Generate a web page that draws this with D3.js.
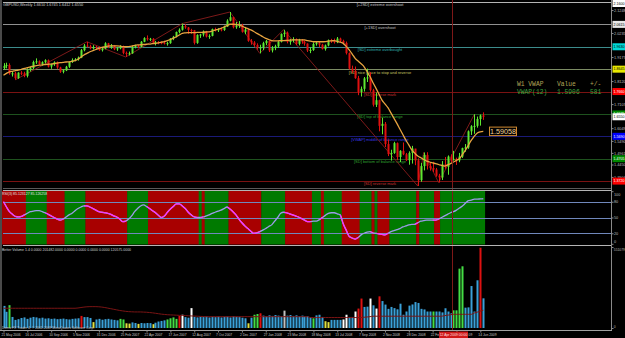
<!DOCTYPE html>
<html><head><meta charset="utf-8">
<script src="https://cdn.jsdelivr.net/npm/d3@7"></script>
<style>html,body{margin:0;padding:0;background:#000;overflow:hidden}svg{display:block}</style>
</head><body><svg id="c" width="625" height="338"></svg>
<script>
// ---------- DATA ----------
const firstOpen = 1.8690;
const closes = [1.8790,1.8830,1.8450,1.8460,1.8250,1.8490,1.8460,1.8350,1.8600,1.8690,
1.8960,1.8990,1.8870,1.8950,1.9040,1.8760,1.8860,1.8950,1.8720,1.8530,
1.8590,1.8750,1.8960,1.9050,1.9080,1.9150,1.9480,1.9680,1.9650,1.9560,
1.9620,1.9580,1.9480,1.9550,1.9780,1.9600,1.9700,1.9520,1.9560,1.9640,
1.9360,1.9320,1.9340,1.9610,1.9680,1.9620,1.9850,2.0010,1.9960,1.9980,
1.9780,1.9830,1.9820,1.9810,1.9770,1.9790,1.9990,2.0070,2.0280,2.0380,
2.0540,2.0480,2.0370,2.0360,1.9800,2.0150,2.0170,2.0300,2.0080,2.0110,
2.0410,2.0360,2.0400,2.0370,2.0520,2.0780,2.0930,2.0490,2.0560,2.0590,
2.0290,2.0390,1.9890,1.9820,1.9710,1.9580,1.9600,1.9790,1.9890,1.9470,
1.9570,1.9650,1.9850,2.0190,2.0250,1.9840,1.9920,1.9960,1.9760,1.9920,
1.9850,1.9770,1.9470,1.9490,1.9750,1.9790,1.9720,1.9530,1.9690,1.9910,
1.9890,1.9830,1.9990,1.9890,1.9800,1.9350,1.8670,1.8570,1.8250,1.7640,
1.7780,1.8240,1.8280,1.7720,1.7080,1.7280,1.6150,1.6240,1.5350,1.4910,
1.4960,1.5390,1.4780,1.5050,1.4900,1.4640,1.4960,1.5150,1.4630,1.3760,
1.4380,1.4870,1.4390,1.4290,1.4230,1.3960,1.3880,1.4450,1.4350,1.4800,
1.4690,1.4700,1.4630,1.4800,1.5170,1.5200,1.5910,1.6130,1.6150,1.6450,
1.6610,1.6550];
const highs = [1.8910,1.8930,1.8900,1.8530,1.8520,1.8510,1.8560,1.8530,1.8680,1.8740,
1.9020,1.9120,1.9030,1.8990,1.9080,1.9070,1.8890,1.8990,1.8980,1.8750,
1.8640,1.8790,1.8980,1.9120,1.9130,1.9200,1.9530,1.9750,1.9850,1.9720,
1.9700,1.9670,1.9640,1.9620,1.9830,1.9800,1.9750,1.9710,1.9620,1.9700,
1.9680,1.9420,1.9420,1.9660,1.9720,1.9710,1.9880,2.0050,2.0130,2.0020,
2.0010,1.9890,1.9880,1.9870,1.9900,1.9850,2.0010,2.0110,2.0300,2.0440,
2.0650,2.0620,2.0500,2.0420,2.0370,2.0180,2.0200,2.0350,2.0330,2.0180,
2.0430,2.0470,2.0450,2.0480,2.0560,2.0840,2.1160,2.0950,2.0720,2.0760,
2.0640,2.0500,2.0420,1.9970,1.9880,1.9780,1.9720,1.9850,1.9930,1.9900,
1.9660,1.9720,1.9880,2.0220,2.0380,2.0300,1.9980,2.0050,2.0000,1.9980,
1.9970,1.9900,1.9780,1.9610,1.9820,1.9850,1.9840,1.9760,1.9730,1.9950,
1.9980,1.9990,2.0060,2.0030,1.9940,1.9860,1.9380,1.8800,1.8760,1.8350,
1.7880,1.8300,1.8670,1.8510,1.7780,1.7620,1.7300,1.6510,1.6320,1.5550,
1.5100,1.5450,1.5420,1.5080,1.5420,1.4960,1.5030,1.5270,1.5140,1.4720,
1.4520,1.4980,1.4990,1.4530,1.4570,1.4300,1.4040,1.4600,1.4780,1.4850,
1.4900,1.5050,1.4750,1.4960,1.5190,1.5350,1.5950,1.6180,1.6660,1.6560,
1.6650,1.6745];
const lows = [1.8620,1.8680,1.8400,1.8320,1.8180,1.8220,1.8380,1.8290,1.8280,1.8540,
1.8650,1.8880,1.8840,1.8800,1.8900,1.8720,1.8660,1.8790,1.8660,1.8480,
1.8460,1.8560,1.8700,1.8920,1.8990,1.9020,1.9130,1.9430,1.9600,1.9520,
1.9510,1.9530,1.9450,1.9420,1.9520,1.9570,1.9540,1.9480,1.9450,1.9520,
1.9300,1.9180,1.9250,1.9320,1.9560,1.9560,1.9600,1.9830,1.9900,1.9880,
1.9750,1.9690,1.9740,1.9740,1.9730,1.9680,1.9760,1.9920,2.0040,2.0220,
2.0340,2.0420,2.0200,2.0200,1.9730,1.9760,2.0020,2.0080,2.0040,1.9980,
2.0090,2.0300,2.0280,2.0310,2.0330,2.0500,2.0750,2.0440,2.0420,2.0460,
2.0250,2.0180,1.9850,1.9720,1.9630,1.9500,1.9340,1.9480,1.9700,1.9400,
1.9380,1.9480,1.9580,1.9820,2.0060,1.9780,1.9720,1.9820,1.9700,1.9690,
1.9760,1.9680,1.9400,1.9350,1.9450,1.9680,1.9610,1.9510,1.9460,1.9650,
1.9800,1.9770,1.9790,1.9830,1.9740,1.9290,1.8630,1.8480,1.8220,1.7500,
1.7440,1.7660,1.8080,1.7650,1.7000,1.6980,1.5910,1.5780,1.5220,1.4820,
1.4620,1.4920,1.4640,1.4560,1.4860,1.4600,1.4440,1.4490,1.4420,1.3503,
1.3690,1.4190,1.4230,1.4180,1.4120,1.3910,1.3657,1.3770,1.4260,1.4000,
1.4560,1.4620,1.4430,1.4550,1.4740,1.5010,1.5140,1.5750,1.5800,1.6070,
1.6160,1.6412];
const vwap = [1.838,1.846,1.853,1.855,1.858,1.860,1.864,1.868,1.871,1.875,
1.877,1.880,1.882,1.883,1.885,1.886,1.887,1.889,1.891,1.893,
1.894,1.896,1.897,1.899,1.902,1.908,1.918,1.927,1.934,1.941,
1.946,1.951,1.956,1.960,1.963,1.966,1.967,1.967,1.967,1.966,
1.964,1.963,1.964,1.966,1.969,1.971,1.972,1.973,1.974,1.975,
1.977,1.978,1.980,1.983,1.986,1.990,1.995,2.001,2.007,2.015,
2.022,2.024,2.025,2.025,2.025,2.026,2.026,2.027,2.028,2.029,
2.032,2.036,2.040,2.044,2.050,2.056,2.062,2.062,2.061,2.059,
2.054,2.048,2.043,2.037,2.030,2.022,2.015,2.007,2.000,1.995,
1.990,1.989,1.989,1.990,1.990,1.991,1.992,1.993,1.993,1.993,
1.993,1.993,1.990,1.988,1.985,1.985,1.985,1.985,1.986,1.988,
1.989,1.990,1.987,1.983,1.978,1.965,1.949,1.931,1.912,1.900,
1.888,1.875,1.853,1.831,1.805,1.780,1.754,1.728,1.712,1.695,
1.672,1.649,1.626,1.601,1.577,1.553,1.531,1.509,1.495,1.482,
1.475,1.467,1.460,1.456,1.452,1.449,1.445,1.441,1.438,1.443,
1.449,1.456,1.463,1.471,1.489,1.508,1.530,1.552,1.570,1.584,
1.589,1.5906];
const zigzag = [[4,1.8180],[28,1.9850],[41,1.9180],[60,2.0650],[76,2.1160],[86,1.9340],
[94,2.0380],[139,1.3503],[141,1.4980],[146,1.3657],[158,1.6660]];
const levels = [2.1600,2.0615,1.9630,1.8645,1.7660,1.6675,1.5690,1.4705,1.3720];
const levelNames = ["[+2SD] extreme overshoot","[+1SD] overshoot","[SD] extreme overbought",
"[SD] nice place to stop and reverse","[SD] reverse mark","[SD] top of balance range",
"[VWAP] middle of balance range","[SD] bottom of balance range","[SD] reverse mark"];
const priceTicks = [2.1248,2.0235,1.9177,1.8120,1.7107,1.6049,1.5490,1.4961,1.4450,1.3904];
const rsi = [80,70,61,56,52,51,52,55,58,61,
62,63,63,61,59,56,53,50,47,45,
47,51,55,58,63,67,70,72,72,70,
67,64,61,60,59,58,56,53,51,47,
42,43,47,53,61,67,72,74,71,67,
63,59,54,50,53,60,66,71,76,76,
72,67,60,55,51,50,50,51,53,55,
58,60,62,64,67,70,66,61,55,47,
40,34,29,24,20,21,23,26,29,33,
36,43,50,58,60,59,57,55,53,51,
48,45,42,42,43,43,46,50,54,58,
59,59,57,55,38,26,14,11,9,12,
17,20,22,23,21,20,19,18,17,20,
23,25,27,29,32,34,36,37,37,40,
43,44,45,45,45,45,47,50,53,56,
59,61,64,68,72,77,82,83,85,85,
85.3,85.6];
// runs of trend state for the RSI background: [firstBar, lastBar, 1=up/0=down]
const rsiBandRuns = [[0,7,0],[8,14,1],[15,20,0],[21,27,1],[28,41,0],[42,48,1],[49,65,0],[66,66,1],
[67,67,0],[68,75,1],[76,86,0],[87,94,1],[95,103,0],[104,106,1],[107,107,0],[108,113,1],[114,119,0],
[120,123,1],[124,124,0],[125,125,1],[126,129,0],[130,138,1],[139,139,0],[140,144,1],[145,146,0],[147,161,1]];
const rsiTicks = [100,80,50,20,0];
const volumes = [150000,110000,155000,75000,55000,60000,68000,72000,62000,70000,
75000,72000,66000,70000,64000,66000,62000,64000,60000,62000,
64000,60000,58000,62000,64000,66000,82000,74000,74000,68000,
40000,58000,62000,56000,60000,62000,58000,55000,52000,62000,
58000,32000,30000,38000,34000,28000,34000,32000,34000,33000,
26000,36000,44000,48000,52000,58000,66000,72000,62000,82000,
90000,74000,70000,135000,76000,72000,76000,74000,78000,72000,
76000,74000,78000,72000,76000,78000,72000,80000,76000,74000,
70000,66000,32000,70000,90000,95000,100000,84000,80000,86000,
82000,88000,84000,80000,118000,84000,88000,82000,86000,80000,
84000,78000,80000,72000,66000,86000,90000,75000,46000,40000,
55000,55000,55000,55000,58000,90000,75000,75000,112000,132000,
200000,143000,145000,200000,154000,132000,215000,183000,159000,130000,
143000,135000,127000,165000,90000,112000,152000,160000,176000,170000,
130000,126000,112000,112000,112000,112000,112000,106000,134000,112000,
100000,120000,120000,403000,419000,138000,140000,285000,112000,324000,
545000,201482];
const volKinds = ["b","b","g","b","b","b","b","b","b","b",
"b","b","b","b","b","b","b","b","b","b",
"b","b","b","b","b","b","r","b","b","b",
"y","b","b","b","b","b","b","b","b","g",
"g","y","y","b","b","y","b","b","b","b",
"y","b","b","b","b","g","g","g","g","r",
"w","b","b","w","b","b","b","b","b","b",
"b","b","b","b","b","b","b","b","b","b",
"b","b","y","b","g","g","r","b","b","b",
"b","b","b","b","s","b","b","b","b","b",
"b","b","b","b","g","b","b","b","y","y",
"b","b","b","b","w","w","b","b","w","r",
"r","b","b","w","b","w","r","b","b","b",
"b","b","b","b","b","b","b","b","b","b",
"b","b","b","b","g","b","b","b","b","b",
"b","g","g","g","g","b","b","b","b","b",
"r","b"];
const volMA = [134000,134000,134000,134000,134000,134000,134000,134000,134000,134000,
134000,134000,134000,134000,134000,134000,134000,134000,134000,134000,
134000,134000,134000,134000,134000,136000,139000,142000,144000,145000,
145000,145000,144000,142000,139000,135000,131000,127000,123000,119000,
116000,113000,111000,110000,109000,109000,109000,108000,107000,105000,
103000,100000,97000,94000,92000,90000,89000,88000,87000,86000,
85000,84000,83000,82000,81000,80000,79000,78000,77000,77000,
77000,77000,77000,77000,77000,77000,77000,77000,77000,77000,
77000,77000,77000,77000,77000,77000,77000,77000,77000,77000,
77000,77000,77000,77000,77000,77000,77000,77000,77000,77000,
77000,77000,77000,71000,71000,71000,71000,71000,71000,71000,
71000,71000,71000,71000,71000,71000,71000,71000,71000,71000,
71000,73000,75000,77000,80000,80000,80000,80000,80000,80000,
80000,80000,80000,80000,80000,80000,80000,80000,80000,80000,
80000,80000,80000,80000,80000,80000,80000,80000,84000,87000,
90000,93000,93000,93000,93000,93000,93000,93000,102000,108000,
115000,120575];
const volTicks = [550000,0];
const volTickLabels = ["551079","0"];
const dateTicks = [0,8,16,24,32,40,48,56,64,72,80,88,96,104,112,120,128,136,144,152,160];
const dateLabels = ["21 May 2006","16 Jul 2006","10 Sep 2006","5 Nov 2006","31 Dec 2006","25 Feb 2007",
"22 Apr 2007","17 Jun 2007","12 Aug 2007","7 Oct 2007","2 Dec 2007","27 Jan 2008","23 Mar 2008",
"18 May 2008","13 Jul 2008","7 Sep 2008","2 Nov 2008","28 Dec 2008","22 Feb 2009","19 Apr 2009","14 Jun 2009"];
const crossIdx = 151, crossLabel = "12 Apr 2009 00:00";
const titleText = "GBPUSD,Weekly  1.6610 1.6745 1.6412 1.6550";
const rsiTitle = "RSI(3) 85.123127 85.126258";
const volTitle = "Better Volume 1.4 0.0000 201482.0000 0.0000 0.0000 0.0000 0.0000 120575.0000";
const copyright = "Demo FX Trader 4, \u00a9 2001-2009 MetaQuotes Software Corp.";
const infoHead = ["W1 VWAP","Value","+/-"];
const infoRow = ["VWAP(12)","1.5906","581"];

// ---------- STYLE ----------
const FONT = "'Liberation Sans', Arial, sans-serif";
const levelLineCol = ["#b4b4b4","#909090","#3c8c8c","#7c8c64","#7a1212","#1e521e","#1a1a78","#1e521e","#7a1212"];
const levelTextCol = ["#c8c8c8","#c0c0c0","#30b4b4","#c8c860","#c83030","#30a030","#3838e0","#30a030","#c83030"];
const levelBoxCol  = ["#ffffff","#e8e8e8","#00d8d8","#e8e800","#ff0000","#008800","#0000ff","#008800","#ff0000"];
const volCol = {b:"#3aa0d8",g:"#44dd44",r:"#dd1111",w:"#ffffff",y:"#e0e040",s:"#c0c0c0"};

// ---------- SCALES ----------
const svg = d3.select("#c");
const X0 = 3, X1 = 611;
const x = d3.scaleLinear().domain([0,161]).range([3.5,483.3]);
const y = d3.scaleLinear().domain([1.346,2.160]).range([187,2]);
const yR = d3.scaleLinear().domain([0,100]).range([243.8,191.2]);
const yV = d3.scaleLinear().domain([0,550000]).range([328,247]);
const half = (x(1)-x(0))/2;
const cx = x(crossIdx);

svg.append("rect").attr("width",625).attr("height",338).attr("fill","#000");
const defs = svg.append("defs");
defs.append("clipPath").attr("id","mainClip").append("rect").attr("x",X0).attr("y",1).attr("width",X1-X0).attr("height",187);
const dclip = defs.append("clipPath").attr("id","dateClip");
dclip.append("rect").attr("x",0).attr("y",-5).attr("width",cx-14.5).attr("height",20);
dclip.append("rect").attr("x",cx+14.5).attr("y",-5).attr("width",625).attr("height",20);

// ---------- RSI PANEL BACKGROUND ----------
const rsiG = svg.append("g");
rsiG.selectAll("rect.band").data(rsiBandRuns).join("rect")
  .attr("x",d=>x(d[0])-half).attr("width",d=>x(d[1])-x(d[0])+2*half+0.3)
  .attr("y",190.5).attr("height",54)
  .attr("fill",d=>d[2]?"#007a00":"#a80000");
rsiG.selectAll("line.lv").data([80,50,20]).join("line")
  .attr("x1",X0).attr("x2",X1).attr("y1",d=>Math.round(yR(d))+0.5).attr("y2",d=>Math.round(yR(d))+0.5)
  .attr("stroke","#7088bc").attr("stroke-width",1);
const rsiLine = d3.line().x((d,i)=>x(i)).y(d=>yR(d)).curve(d3.curveMonotoneX);
rsiG.append("path").datum(rsi).attr("d",rsiLine).attr("fill","none").attr("stroke","#9c9ce8").attr("stroke-width",1.3);
rsiBandRuns.filter(r=>r[2]===0).forEach(r=>{
  const s = Math.max(0,r[0]-1), e = r[1];
  const seg = rsi.slice(s,e+1).map((v,k)=>[s+k,v]);
  rsiG.append("path").datum(seg).attr("d",d3.line().x(d=>x(d[0])).y(d=>yR(d[1])).curve(d3.curveMonotoneX))
    .attr("fill","none").attr("stroke","#ff30ff").attr("stroke-width",1.2);
});

// ---------- MAIN PANEL ----------
const main = svg.append("g").attr("clip-path","url(#mainClip)");
main.selectAll("line.level").data(levels).join("line")
  .attr("x1",X0).attr("x2",X1)
  .attr("y1",d=>Math.round(y(d))+0.5).attr("y2",d=>Math.round(y(d))+0.5)
  .attr("stroke",(d,i)=>levelLineCol[i]).attr("stroke-width",1);
main.selectAll("text.level").data(levels).join("text")
  .attr("x",380).attr("y",d=>y(d)+4.4).attr("text-anchor","middle")
  .attr("font-family",FONT).attr("font-size",4).attr("fill",(d,i)=>levelTextCol[i])
  .text((d,i)=>levelNames[i]);
main.append("path").datum(zigzag)
  .attr("d",d3.line().x(d=>x(d[0])).y(d=>y(d[1])))
  .attr("fill","none").attr("stroke","#8a1c1c").attr("stroke-width",0.9);

const candles = closes.map((c,i)=>({i,o:i?closes[i-1]:firstOpen,h:highs[i],l:lows[i],c}));
const cg = main.append("g");
cg.selectAll("line.wick").data(candles).join("line")
  .attr("x1",d=>Math.round(x(d.i))+0.5).attr("x2",d=>Math.round(x(d.i))+0.5)
  .attr("y1",d=>y(d.h)).attr("y2",d=>y(d.l))
  .attr("stroke",d=>d.c>=d.o?"#5ee830":"#e01010").attr("stroke-width",1);
cg.selectAll("rect.body").data(candles).join("rect")
  .attr("x",d=>Math.round(x(d.i))-0.5).attr("width",2)
  .attr("y",d=>y(Math.max(d.o,d.c)))
  .attr("height",d=>Math.max(1,Math.abs(y(d.o)-y(d.c))))
  .attr("fill",d=>d.c>=d.o?"#5ee830":"#e01010");

main.append("path").datum(vwap)
  .attr("d",d3.line().x((d,i)=>x(i)).y(d=>y(d)).curve(d3.curveMonotoneX))
  .attr("fill","none").attr("stroke","#e8a440").attr("stroke-width",1.3);

// value label box of VWAP
const lastV = vwap[vwap.length-1];
svg.append("rect").attr("x",489.5).attr("y",y(lastV)-4.3).attr("width",27).attr("height",8.5)
  .attr("fill","#000").attr("stroke","#d08a30").attr("stroke-width",1);
svg.append("text").attr("x",503).attr("y",y(lastV)+2.6).attr("text-anchor","middle")
  .attr("font-family",FONT).attr("font-size",7.2).attr("fill","#f0d49a").text(d3.format(".5f")(1.59058));

// info table
const MONO = "'Liberation Mono','DejaVu Sans Mono',monospace";
[517,557,590].forEach((xx,k)=>{
  svg.append("text").attr("x",xx).attr("y",86).attr("font-family",MONO).attr("font-size",6.3).attr("fill","#b0a458").text(infoHead[k]);
  svg.append("text").attr("x",xx).attr("y",93.5).attr("font-family",MONO).attr("font-size",6.3).attr("fill","#3ea43e").text(infoRow[k]);
});

svg.append("text").attr("x",3).attr("y",5.5).attr("font-family",FONT).attr("font-size",3.8).attr("fill","#d0d0d0").text(titleText);

// ---------- VOLUME PANEL ----------
const vg = svg.append("g");
vg.selectAll("rect").data(volumes).join("rect")
  .attr("x",(d,i)=>Math.round(x(i))-0.5).attr("width",2)
  .attr("y",d=>yV(d)).attr("height",d=>yV(0)-yV(d))
  .attr("fill",(d,i)=>volCol[volKinds[i]]);
vg.append("path").datum(volMA)
  .attr("d",d3.line().x((d,i)=>x(i)).y(d=>yV(d)).curve(d3.curveMonotoneX))
  .attr("fill","none").attr("stroke","#7a1414").attr("stroke-width",1);
svg.append("text").attr("x",2).attr("y",250.5).attr("font-family",FONT).attr("font-size",3.5).attr("fill","#d0d0d0").text(volTitle);
svg.append("text").attr("x",2).attr("y",329).attr("font-family",FONT).attr("font-size",3.4).attr("fill","#c8c8c8").text(copyright);
svg.append("text").attr("x",2).attr("y",194.5).attr("font-family",FONT).attr("font-size",3.5).attr("fill","#e0e0e0").text(rsiTitle);

// ---------- CROSSHAIR ----------
svg.append("line").attr("x1",Math.round(cx)-0.5).attr("x2",Math.round(cx)-0.5)
  .attr("y1",0).attr("y2",330).attr("stroke","#7e1818").attr("stroke-width",1);

// ---------- FRAMES ----------
svg.append("rect").attr("x",0).attr("y",0).attr("width",2).attr("height",331).attr("fill","#4a4a4a");
[[188.5,"#5a5a5a"],[190.5,"#b4b4b4"],[245.5,"#b4b4b4"]].forEach(([yy,c])=>{
  svg.append("line").attr("x1",X0).attr("x2",X1).attr("y1",yy).attr("y2",yy).attr("stroke",c).attr("stroke-width",1);
});
svg.append("line").attr("x1",X1+0.5).attr("x2",X1+0.5).attr("y1",0).attr("y2",331).attr("stroke","#8a8a8a").attr("stroke-width",1);
svg.append("line").attr("x1",0).attr("x2",X1+1).attr("y1",330.5).attr("y2",330.5).attr("stroke","#a0a0a0").attr("stroke-width",1);

// ---------- AXES ----------
function styleAxis(g, fs, col){
  g.attr("font-size",null).attr("font-family",null);
  g.select(".domain").remove();
  g.selectAll("line").attr("stroke","#8a8a8a");
  g.selectAll("text").attr("font-family",FONT).attr("font-size",fs).attr("fill",col);
}
const gy = svg.append("g").attr("transform",`translate(${X1+1},0)`)
  .call(d3.axisRight(y).tickValues(priceTicks).tickSize(1.5).tickPadding(0.5).tickFormat(d3.format(".4f")));
styleAxis(gy,3.8,"#bcbcbc");

const gr = svg.append("g").attr("transform",`translate(${X1+1},0)`)
  .call(d3.axisRight(yR).tickValues(rsiTicks).tickSize(1.5).tickPadding(0.5).tickFormat(d3.format("d")));
styleAxis(gr,3.8,"#bcbcbc");
gr.selectAll("text").attr("dy",d=>d===100?"1.2em":d===0?"-0.3em":"0.32em");

const gv = svg.append("g").attr("transform",`translate(${X1+1},0)`)
  .call(d3.axisRight(yV).tickValues(volTicks).tickSize(1.5).tickPadding(0.3).tickFormat((d,i)=>volTickLabels[i]));
styleAxis(gv,3.3,"#bcbcbc");
gv.selectAll("text").attr("dy",d=>d===0?"-0.3em":"1.0em");

const gx = svg.append("g").attr("transform","translate(0,330.5)")
  .call(d3.axisBottom(x).tickValues(dateTicks).tickSize(2).tickFormat((d,i)=>dateLabels[i]));
styleAxis(gx,3.3,"#c8c8c8");
gx.selectAll("text").attr("text-anchor","start").attr("x",-2.5).attr("y",3).attr("dy","0.75em");
gx.selectAll(".tick").filter(d=>Math.abs(x(d)-cx)<30).attr("clip-path","url(#dateClip)")
  .each(function(d){ d3.select(this).select("text").attr("transform",null); });
// clip is in tick-local coordinates: shift clip by tick offset
gx.selectAll(".tick").filter(d=>Math.abs(x(d)-cx)<30).each(function(d){
  const id = "dc"+d;
  const cp = defs.append("clipPath").attr("id",id);
  cp.append("rect").attr("x",-10).attr("y",-5).attr("width",Math.max(0,cx-14.5-x(d)+10)).attr("height",20);
  cp.append("rect").attr("x",cx+14.5-x(d)).attr("y",-5).attr("width",60).attr("height",20);
  d3.select(this).select("text").attr("clip-path",`url(#${id})`);
  d3.select(this).attr("clip-path",null);
});

// right axis level boxes
const boxes = levels.map((v,i)=>({v,c:levelBoxCol[i]}));
boxes.splice(6,0,{v:closes[closes.length-1],c:"#ffffff"});
const bg = svg.append("g");
bg.selectAll("rect").data(boxes).join("rect")
  .attr("x",X1+1.5).attr("y",d=>Math.max(0,y(d.v)-3.5)).attr("width",13).attr("height",7).attr("fill",d=>d.c);
bg.selectAll("text").data(boxes).join("text")
  .attr("x",X1+2.5).attr("y",d=>Math.max(3.5,y(d.v))+1.3)
  .attr("font-family",FONT).attr("font-size",3.6)
  .attr("fill",d=>["#0000ff","#ff0000","#008800"].includes(d.c)?"#ffffff":"#000000")
  .text(d=>d3.format(".4f")(d.v));

// crosshair date box
svg.append("rect").attr("x",cx-14.5).attr("y",331.5).attr("width",29).attr("height",6.5).attr("fill","#d01818");
svg.append("text").attr("x",cx).attr("y",336.3).attr("text-anchor","middle").attr("font-family",FONT)
  .attr("font-size",3.4).attr("fill","#ffe0e0").text(crossLabel);
</script>
</body></html>
